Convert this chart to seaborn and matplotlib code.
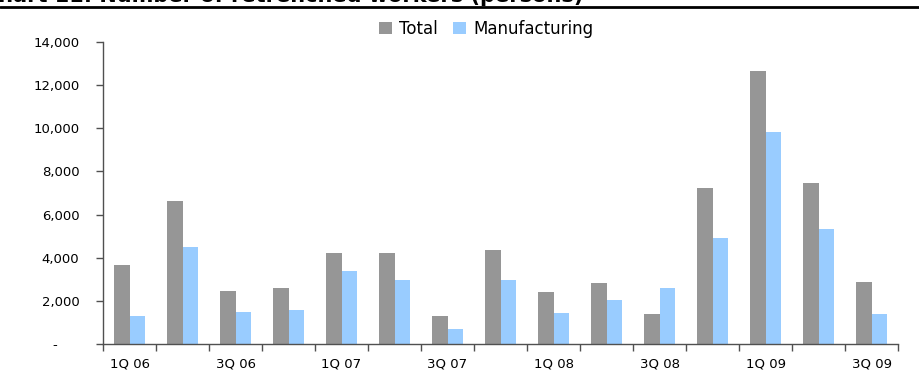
import matplotlib
matplotlib.use("Agg")
import matplotlib.pyplot as plt
import seaborn as sns
import pandas as pd
import numpy as np
from matplotlib.ticker import FuncFormatter, FixedLocator

quarters = ["1Q 06", "2Q 06", "3Q 06", "4Q 06", "1Q 07", "2Q 07", "3Q 07", "4Q 07",
            "1Q 08", "2Q 08", "3Q 08", "4Q 08", "1Q 09", "2Q 09", "3Q 09"]
total = [3650, 6620, 2450, 2590, 4210, 4210, 1300, 4350,
         2410, 2820, 1390, 7220, 12640, 7450, 2870]
manufacturing = [1300, 4490, 1480, 1570, 3380, 2960, 690, 2960,
                 1430, 2040, 2590, 4910, 9810, 5320, 1390]
series_names = ["Total", "Manufacturing"]
series_colors = ["#969696", "#99CCFF"]

df = pd.DataFrame({
    "quarter": quarters * 2,
    "value": total + manufacturing,
    "series": [series_names[0]] * len(quarters) + [series_names[1]] * len(quarters),
})

sns.set_style("white")
plt.rcParams["font.family"] = ["DejaVu Sans"]
plt.rcParams["text.color"] = "black"
plt.rcParams["xtick.labelcolor"] = "black"
plt.rcParams["ytick.labelcolor"] = "black"

fig = plt.figure(figsize=(9.19, 3.79), dpi=100)
ax = fig.add_axes([103 / 919, 1 - 344 / 379, 795 / 919, 302 / 379])

sns.barplot(data=df, x="quarter", y="value", hue="series", order=quarters,
            hue_order=series_names, palette=series_colors, width=0.6,
            saturation=1, linewidth=0, edgecolor="none", ax=ax, legend=True)

ax.set_xlim(-0.5, len(quarters) - 0.5)
ax.set_ylim(0, 14000)
ax.set_xlabel("")
ax.set_ylabel("")

axis_color = "#505050"

# y axis, accounting-style labels with a dash for zero
ax.set_yticks(np.arange(0, 14001, 2000))
ax.yaxis.set_major_formatter(
    FuncFormatter(lambda v, p: "-     " if v == 0 else f"{int(v):,}"))
ax.tick_params(axis="y", length=5, width=1, color=axis_color, labelsize=9.5,
               labelcolor="black", pad=12, direction="out", left=True)

# x axis: labels every other quarter, ticks at category boundaries
label_pos = list(range(0, len(quarters), 2))
ax.set_xticks(label_pos)
ax.set_xticklabels([quarters[i] for i in label_pos])
ax.tick_params(axis="x", which="major", length=0, labelsize=9.5,
               labelcolor="black", pad=10)
ax.xaxis.set_minor_locator(FixedLocator(np.arange(-0.5, len(quarters), 1.0)))
ax.tick_params(axis="x", which="minor", length=5, width=1, color=axis_color,
               direction="out", bottom=True)

for side in ["top", "right"]:
    ax.spines[side].set_visible(False)
for side in ["left", "bottom"]:
    ax.spines[side].set_color(axis_color)
    ax.spines[side].set_linewidth(1)

# legend: one entry per box so both labels share a baseline
handles, labels = ax.get_legend_handles_labels()
ax.get_legend().remove()
legend_x = [379 / 919, 453 / 919]
legends = []
for h, l, lx in zip(handles, labels, legend_x):
    lg = ax.legend([h], [l], loc="center left", bbox_to_anchor=(lx, 1 - 29 / 379),
                   bbox_transform=fig.transFigure, frameon=False, fontsize=12,
                   handlelength=0.75, handleheight=0.75, handletextpad=0.45,
                   borderpad=0, borderaxespad=0, labelcolor="black")
    legends.append(lg)
for lg in legends[:-1]:
    ax.add_artist(lg)

# heading and rule above the chart
fig.text(583 / 919, 1 - 2.5 / 379, "Chart 11: Number of retrenched workers (persons)",
         fontsize=15, fontweight="bold", color="black", ha="right", va="baseline")
fig.add_artist(plt.Line2D([0, 1], [1 - 6.7 / 379, 1 - 6.7 / 379], color="black",
                          linewidth=2, transform=fig.transFigure))

fig.savefig("out.png", dpi=100)
